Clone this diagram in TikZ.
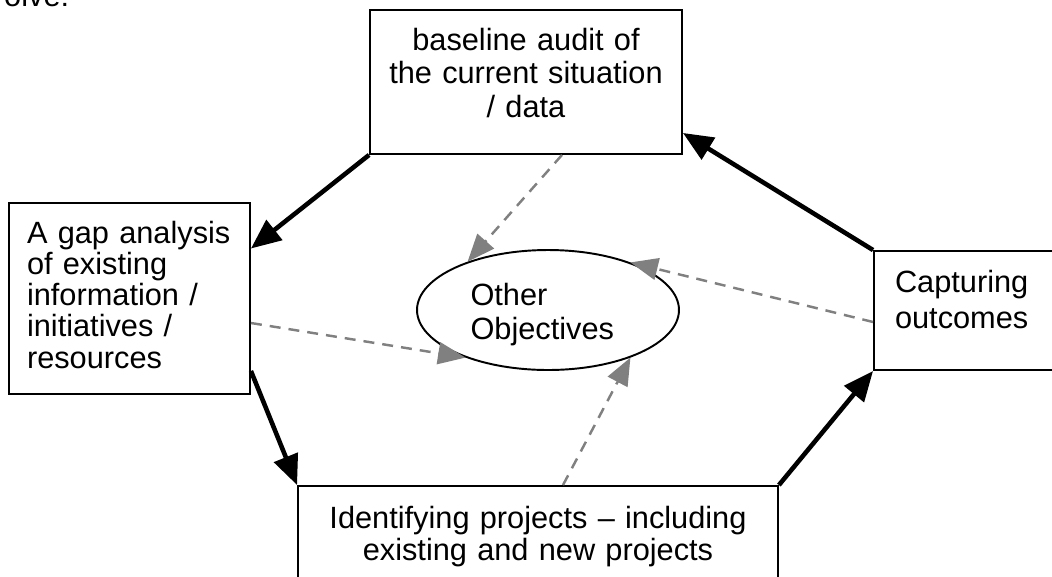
\documentclass[tikz,border=0pt]{standalone}
\usepackage{fontspec}
\setmainfont{Liberation Sans}
\usetikzlibrary{arrows.meta,shapes.geometric}

\newcommand{\boxfont}[1]{\fontsize{17.5}{#1}\selectfont}

\tikzset{
  stage/.style={rectangle,draw=black,line width=1.1pt,fill=white,
    inner sep=0pt,text height=0.4cm},
  hub/.style={ellipse,draw=black,line width=1.1pt,fill=white,
    minimum width=5.24cm,minimum height=2.4cm,inner sep=0pt,align=left,
    text width=3.1cm,text height=0.4cm,text depth=0.6cm,font=\boxfont{19.7pt}},
  % the improvement cycle in black, feeds into the centre in grey
  arr/.style={-{Triangle[length=0.6cm,width=0.5cm]},line width=2.6pt},
  dasharr/.style={-{Triangle[length=0.55cm,width=0.44cm]},draw=gray,
    line width=1.4pt,dash pattern=on 0.22cm off 0.16cm}
}

\begin{document}
\begin{tikzpicture}[x=0.02cm,y=-0.02cm]
  \useasboundingbox (0,0) rectangle (1052,576);
  \clip (0,0) rectangle (1052,576);

  \node[anchor=base west,font=\boxfont{19pt}] (lead) at (-2,6) {olve:};

  \node[stage, minimum width=6.24cm, minimum height=2.88cm, text width=6cm,
    align=center, text depth=1.68cm, font=\boxfont{19.3pt}] (audit) at (526,82)
    {baseline audit of\\the current situation\\/ data};
  \node[stage, minimum width=4.82cm, minimum height=3.82cm, text width=4.1cm,
    align=left, text depth=2.62cm, font=\boxfont{17.8pt}] (gap) at (129.5,298.5)
    {A gap analysis\\of existing\\information /\\initiatives /\\resources};
  \node[stage, minimum width=9.6cm, minimum height=2.02cm, text width=9cm,
    align=center, text depth=0.74cm, font=\boxfont{18.7pt}] (proj) at (538,536.5)
    {Identifying projects -- including\\existing and new projects};
  \node[stage, minimum height=2.38cm, text width=3.2cm, inner xsep=0.42cm,
    align=left, text depth=1.14cm, font=\boxfont{20.6pt}] (cap) at (975,310.5)
    {Capturing\\outcomes};
  \node[hub] (obj) at (548,310) {Other\\Objectives};

  % cycle
  \draw[arr] (audit.south west) -- ([yshift=1cm]gap.east);
  \draw[arr] ([yshift=0.48cm]gap.south east) -- (proj.north west);
  \draw[arr] (proj.north east) -- (cap.south west);
  \draw[arr] (cap.north west) -- ([yshift=0.44cm]audit.south east);

  % links to the other objectives
  \draw[dasharr] ([xshift=0.72cm]audit.south) -- (obj.149);
  \draw[dasharr] ([yshift=-0.49cm]gap.east) -- (obj.210);
  \draw[dasharr] ([xshift=0.5cm]proj.north) -- (obj.330);
  \draw[dasharr] ([yshift=-0.23cm]cap.west) -- (obj.30);
\end{tikzpicture}
\end{document}
